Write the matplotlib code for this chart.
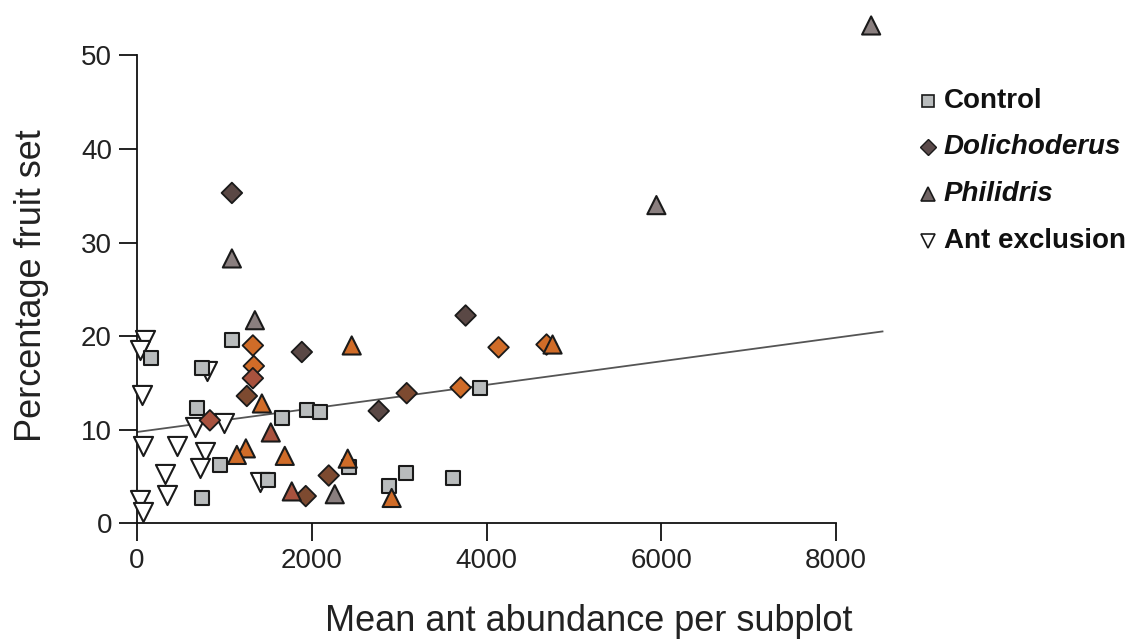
import matplotlib
matplotlib.use("Agg")
import matplotlib.pyplot as plt
from matplotlib.lines import Line2D
import numpy as np

plt.rcParams["font.family"] = ["Liberation Sans", "DejaVu Sans"]

# Mean ant abundance per subplot (x) and percentage fruit set (y) per treatment
control_x = [160, 1086, 740, 685, 950, 740, 1497, 1657, 1943, 2091, 2423, 2880, 3075, 3920, 3612]
control_y = [17.7, 19.6, 16.6, 12.3, 6.2, 2.7, 4.6, 11.3, 12.1, 11.9, 6.0, 4.0, 5.4, 14.4, 4.8]

dolichoderus_x = [1086, 1326, 1337, 1326, 1257, 834, 1886, 2194, 1931, 2766, 3086, 3703, 3760, 4137, 4686]
dolichoderus_y = [35.3, 19.0, 16.8, 15.5, 13.6, 11.0, 18.3, 5.1, 2.9, 12.0, 13.9, 14.5, 22.2, 18.8, 19.1]

philidris_x = [1086, 8400, 5943, 1349, 2457, 1429, 1531, 1246, 1143, 1691, 2411, 1771, 2263, 2914, 4755]
philidris_y = [28.3, 53.2, 34.0, 21.7, 19.0, 12.8, 9.7, 8.0, 7.3, 7.2, 6.9, 3.4, 3.1, 2.7, 19.1]

exclusion_x = [90, 30, 55, 65, 460, 320, 340, 35, 65, 660, 1000, 800, 780, 720, 1405]
exclusion_y = [19.6, 18.5, 13.7, 8.3, 8.3, 5.3, 3.0, 2.5, 1.2, 10.3, 10.7, 16.3, 7.6, 5.9, 4.4]

# Fitted regression line (intercept, slope) and its x extent
fit_intercept = 9.75
fit_slope = 0.00126
fit_x_range = [0, 8530]

x_ticks = [0, 2000, 4000, 6000, 8000]
y_ticks = [0, 10, 20, 30, 40, 50]

legend_labels = ["Control", "Dolichoderus", "Philidris", "Ant exclusion"]

# Fill tones of the individual markers
DARK, BROWN, ORANGE, RED, GREY = "#5a4845", "#7d4a30", "#d06c28", "#a8523e", "#8a7f7f"
dolichoderus_fill = [DARK, ORANGE, ORANGE, RED, BROWN, RED, DARK, BROWN, BROWN, DARK,
                     BROWN, ORANGE, DARK, ORANGE, ORANGE]
philidris_fill = [GREY, GREY, GREY, GREY, ORANGE, ORANGE, RED, ORANGE, ORANGE, ORANGE,
                  ORANGE, RED, GREY, ORANGE, ORANGE]

fig = plt.figure(figsize=(11.32, 6.42), dpi=100)
ax = fig.add_axes([0.121, 0.185, 0.664, 0.787])

edge = "#1a1a1a"
ax.scatter(exclusion_x, exclusion_y, marker="v", s=190, facecolor="white",
           edgecolor=edge, linewidth=1.5, clip_on=False, zorder=3)
ax.scatter(control_x, control_y, marker="s", s=105, facecolor="#b9bcbd",
           edgecolor=edge, linewidth=1.5, clip_on=False, zorder=3)
ax.scatter(dolichoderus_x, dolichoderus_y, marker="D", s=110, facecolor=dolichoderus_fill,
           edgecolor=edge, linewidth=1.3, clip_on=False, zorder=3)
ax.scatter(philidris_x, philidris_y, marker="^", s=170, facecolor=philidris_fill,
           edgecolor=edge, linewidth=1.5, clip_on=False, zorder=3)

fx = np.array(fit_x_range, dtype=float)
ax.plot(fx, fit_intercept + fit_slope * fx, color="#555555", linewidth=1.3, zorder=2)

ax.set_xlim(0, 8600)
ax.set_ylim(0, 54)
ax.set_xticks(x_ticks)
ax.set_yticks(y_ticks)
for side in ("top", "right"):
    ax.spines[side].set_visible(False)
ax.spines["left"].set_bounds(0, 50)
ax.spines["bottom"].set_bounds(0, 8000)
for side in ("left", "bottom"):
    ax.spines[side].set_linewidth(1.3)
    ax.spines[side].set_color("#111111")
ax.tick_params(axis="both", direction="out", length=13, width=1.3, color="#111111",
               labelsize=20, labelcolor="#222222")
ax.tick_params(axis="y", pad=5)
ax.tick_params(axis="x", pad=5)

ax.set_xlabel("Mean ant abundance per subplot", fontsize=26, color="#222222")
ax.set_ylabel("Percentage fruit set", fontsize=26, color="#222222")
ax.xaxis.set_label_coords(0.601, -0.16)
ax.yaxis.set_label_coords(-0.117, 0.471)

# Legend: marker and label rows placed in figure pixels
legend_markers = [
    dict(marker="s", markersize=8, markerfacecolor="#b9bcbd", markeredgewidth=1.2),
    dict(marker="D", markersize=8, markerfacecolor="#5a4a4a", markeredgewidth=1.0),
    dict(marker="^", markersize=10, markerfacecolor="#706464", markeredgewidth=1.2),
    dict(marker="v", markersize=10, markerfacecolor="white", markeredgewidth=1.2),
]
W, H = 1132.0, 642.0
row_y = [101, 147, 194, 241]
for i, (lab, mk) in enumerate(zip(legend_labels, legend_markers)):
    yf = 1 - row_y[i] / H
    fig.add_artist(Line2D([928 / W], [yf], transform=fig.transFigure, linestyle="none",
                          markeredgecolor=edge, **mk))
    fig.text(944 / W, yf, lab, fontsize=20, fontweight="bold",
             fontstyle="italic" if i in (1, 2) else "normal",
             color="#111111", va="center", ha="left")

fig.savefig("out.png", dpi=100, facecolor="white")
